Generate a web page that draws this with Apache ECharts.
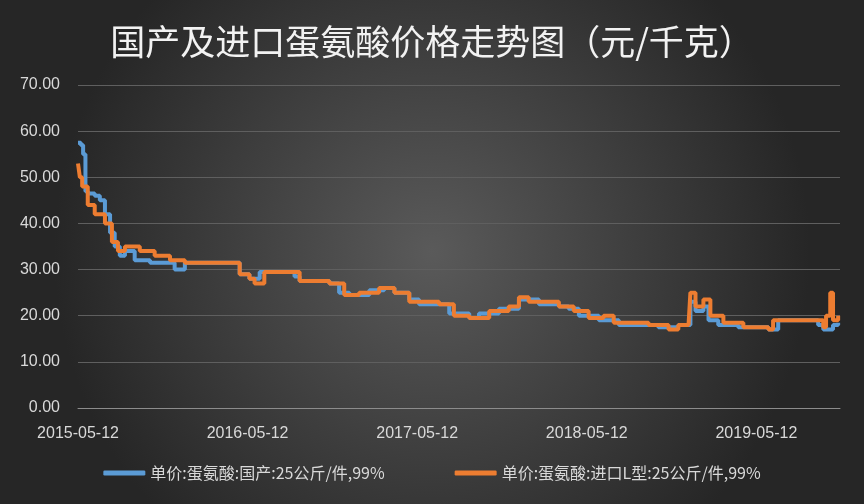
<!DOCTYPE html>
<html><head><meta charset="utf-8">
<script src="https://cdn.jsdelivr.net/npm/echarts@6/dist/echarts.min.js"></script>
<style>html,body{margin:0;padding:0;}#c{width:864px;height:504px;}</style>
</head><body><div id="c"></div>
<script>
var xTickLabels = ['2015-05-12','2016-05-12','2017-05-12','2018-05-12','2019-05-12'];
var seriesNames = ['单价:蛋氨酸:国产:25公斤/件,99%','单价:蛋氨酸:进口L型:25公斤/件,99%'];
// days since 2015-05-12
var domesticDays = [0,6,11,16,21,36,47,58,69,79,90,101,122,155,208,230,337,348,369,391,455,466,477,541,562,584,627,659,681,713,734,777,799,842,863,906,949,992,1035,1056,1078,1121,1164,1228,1249,1292,1310,1318,1329,1346,1357,1378,1421,1486,1507,1571,1593,1604,1625,1636];
var domesticVals = [57.5,57,55,47,46.5,46,45,42,38,35,33,34,32,31.5,30,31.5,31.5,29,28,29.5,29.5,28.5,27.5,27,25,24.5,25.5,26,25,23.5,22.5,22.5,20.5,19.5,20.5,21.5,23.5,22.5,22,21.5,20,19,18,18,17.5,18,18,23,21,22,19,18,17.5,17,19,19,18,17,18,18.5];
var importDays = [0,4,9,21,36,58,73,86,101,133,165,198,230,337,348,369,380,401,455,477,541,573,605,648,681,713,777,809,842,885,927,949,970,1035,1067,1099,1131,1153,1228,1249,1271,1292,1314,1318,1329,1346,1361,1389,1432,1486,1496,1582,1604,1610,1619,1625,1636];
var importVals = [53,50,48,44,42,40,36,34,35,34,33,32,31.5,31.5,29,28,27,29.5,29.5,27.5,27,24.5,25,26,25,23,22.5,20,19.5,21,22,24,23,22,21,19.5,20,18.5,18,18,17,18,18,25,22,23.5,20,18.5,17.5,17,19,19,17.5,20,25,19,20];
function pairs(d,v){return d.map(function(x,i){return [x,v[i]];});}
var chart = echarts.init(document.getElementById('c'));
chart.setOption({
  backgroundColor:{type:'radial',x:0.5,y:0.5,r:0.75,colorStops:[{offset:0,color:'#5a5a5a'},{offset:1,color:'#262626'}]},
  title:{text:'国产及进口蛋氨酸价格走势图（元/千克）',left:'center',top:19,textStyle:{color:'#f2f2f2',fontSize:35,fontWeight:'normal',fontFamily:'Noto Sans CJK SC'}},
  legend:{bottom:18,left:'center',itemWidth:42,itemGap:70,icon:'roundRect',itemHeight:5,textStyle:{color:'#d9d9d9',fontSize:16,fontFamily:'Noto Sans CJK SC'},data:seriesNames},
  grid:{left:78,right:24,top:85,bottom:96},
  xAxis:{type:'value',min:0,max:1640,interval:365,splitLine:{show:false},axisLine:{lineStyle:{color:'#8c8c8c'}},axisTick:{show:false},
    axisLabel:{color:'#d9d9d9',fontSize:16,margin:18,showMaxLabel:false,formatter:function(v){var i=Math.round(v/365);return xTickLabels[i]||'';}}},
  yAxis:{type:'value',min:0,max:70,interval:10,axisLine:{show:false},axisTick:{show:false},
    splitLine:{lineStyle:{color:'#5f5f5f'}},axisLabel:{color:'#d9d9d9',fontSize:16,margin:18,formatter:function(v){return v.toFixed(2);}}},
  series:[
    {name:seriesNames[0],type:'line',step:'end',showSymbol:false,data:pairs(domesticDays,domesticVals),lineStyle:{width:4,color:'#5b9bd5'},itemStyle:{color:'#5b9bd5'}},
    {name:seriesNames[1],type:'line',step:'end',showSymbol:false,data:pairs(importDays,importVals),lineStyle:{width:4,color:'#ed7d31'},itemStyle:{color:'#ed7d31'}}
  ]
});
</script></body></html>
